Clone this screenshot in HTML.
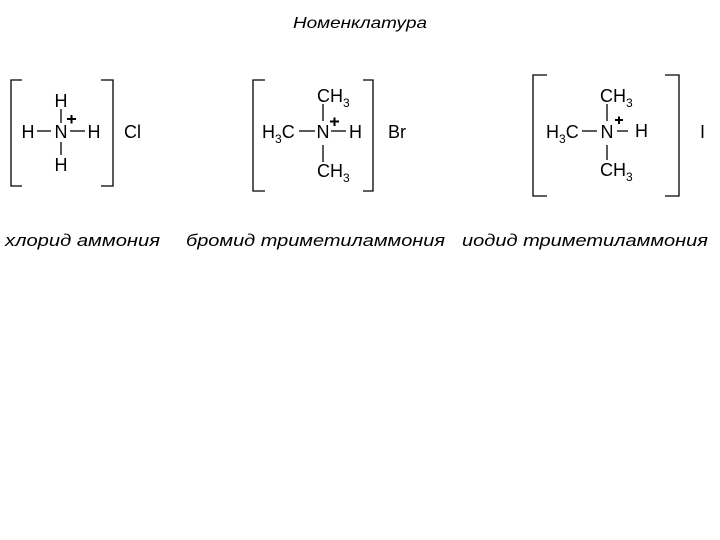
<!DOCTYPE html>
<html><head><meta charset="utf-8"><style>body{margin:0;background:#fff}svg{display:block}</style></head><body>
<svg width="720" height="540" viewBox="0 0 720 540" xmlns="http://www.w3.org/2000/svg" font-family="Liberation Sans, sans-serif" fill="#000">
<rect width="720" height="540" fill="#fff"/>
<text x="360" y="28" font-size="16" font-style="italic" text-anchor="middle" textLength="134" lengthAdjust="spacingAndGlyphs">Номенклатура</text>
<g stroke="#000" stroke-width="1.3" fill="none">
<polyline points="22,80 11,80 11,186 22,186"/>
<polyline points="101,80 113,80 113,186 101,186"/>
<line x1="37" y1="131" x2="51" y2="131"/><line x1="70" y1="131" x2="85" y2="131"/>
<line x1="61" y1="109" x2="61" y2="123"/><line x1="61" y1="142" x2="61" y2="155"/>
<polyline points="265,80 253,80 253,191 265,191"/>
<polyline points="363,80 373,80 373,191 363,191"/>
<line x1="299" y1="131" x2="315" y2="131"/><line x1="331" y1="131" x2="346" y2="131"/>
<line x1="323" y1="104" x2="323" y2="121"/><line x1="323" y1="145" x2="323" y2="162"/>
<polyline points="547,75 533,75 533,196 547,196"/>
<polyline points="665,75 679,75 679,196 665,196"/>
<line x1="582" y1="131" x2="597" y2="131"/><line x1="617" y1="131" x2="628" y2="131"/>
<line x1="607" y1="104" x2="607" y2="121"/><line x1="607" y1="145" x2="607" y2="160"/>
</g>
<g stroke="#000" stroke-width="2">
<line x1="67" y1="119" x2="76" y2="119"/><line x1="71.5" y1="115" x2="71.5" y2="123.5"/>
<line x1="330" y1="121.5" x2="339" y2="121.5"/><line x1="334.5" y1="117.5" x2="334.5" y2="126"/>
<line x1="615" y1="120" x2="623" y2="120"/><line x1="619" y1="116.5" x2="619" y2="124"/>
</g>
<g font-size="18">
<text x="61" y="107" text-anchor="middle">H</text>
<text x="61" y="138" text-anchor="middle">N</text>
<text x="28" y="138" text-anchor="middle">H</text>
<text x="94" y="138" text-anchor="middle">H</text>
<text x="61" y="171" text-anchor="middle">H</text>
<text x="124" y="138">Cl</text>

<text x="317" y="102">CH<tspan font-size="12" dy="5">3</tspan></text>
<text x="262" y="138">H<tspan font-size="12" dy="5">3</tspan><tspan dy="-5">C</tspan></text>
<text x="323" y="138" text-anchor="middle">N</text>
<text x="349" y="138">H</text>
<text x="317" y="177">CH<tspan font-size="12" dy="5">3</tspan></text>
<text x="388" y="138">Br</text>

<text x="600" y="102">CH<tspan font-size="12" dy="5">3</tspan></text>
<text x="546" y="138">H<tspan font-size="12" dy="5">3</tspan><tspan dy="-5">C</tspan></text>
<text x="607" y="138" text-anchor="middle">N</text>
<text x="635" y="137">H</text>
<text x="600" y="176">CH<tspan font-size="12" dy="5">3</tspan></text>
<text x="700" y="138">I</text>
</g>
<g font-size="17" font-style="italic">
<text x="5" y="246" textLength="155" lengthAdjust="spacingAndGlyphs">хлорид аммония</text>
<text x="186" y="246" textLength="259" lengthAdjust="spacingAndGlyphs">бромид триметиламмония</text>
<text x="462" y="246" textLength="246" lengthAdjust="spacingAndGlyphs">иодид триметиламмония</text>
</g>
</svg>
</body></html>
